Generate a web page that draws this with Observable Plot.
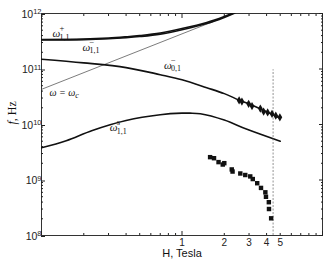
<!DOCTYPE html>
<html><head><meta charset="utf-8">
<script src="https://cdn.jsdelivr.net/npm/d3@7"></script>
<script src="https://cdn.jsdelivr.net/npm/@observablehq/plot@0.6"></script>
<style>body{margin:0;background:#fff}</style>
</head><body><div id="chart"></div>
<script>
// ---- data (H in Tesla, f in Hz) ----
const plusH  = [0.1, 0.2, 0.3, 0.4, 0.5, 0.7, 1.0, 1.5, 2.0, 2.3];
const plusF  = [3.4e11, 3.45e11, 3.6e11, 3.8e11, 4.0e11, 4.45e11, 5.35e11, 6.9e11, 8.85e11, 1.02e12];
const minusH = [0.1, 0.2, 0.3, 0.4, 0.5, 0.7, 1.0, 1.5, 2.0, 2.38];
const minusF = [3.35e11, 3.38e11, 3.5e11, 3.66e11, 3.84e11, 4.25e11, 5.1e11, 6.6e11, 8.5e11, 1.02e12];
const cycH   = [0.1, 2.33];
const cycF   = [4.3e10, 1.0e12];
const w01H   = [0.1, 0.2, 0.4, 0.7, 1.0, 1.5, 2.0, 2.55, 3.0, 4.0, 5.0];
const w01F   = [1.5e11, 1.29e11, 1.06e11, 7.9e10, 6.4e10, 4.6e10, 3.6e10, 2.75e10, 2.35e10, 1.7e10, 1.3e10];
const wsH    = [0.1, 0.15, 0.23, 0.4, 0.7, 1.0, 1.14, 1.35, 2.0, 2.9, 5.0];
const wsF    = [3.8e9, 5.1e9, 7.8e9, 1.18e10, 1.5e10, 1.6e10, 1.6e10, 1.56e10, 1.2e10, 8.2e9, 5.0e9];
const diamH  = [2.55, 2.67, 2.98, 3.15, 3.61, 3.81, 4.07, 4.37, 4.65, 4.97];
const diamF  = [2.71e10, 2.59e10, 2.36e10, 2.15e10, 1.94e10, 1.71e10, 1.65e10, 1.56e10, 1.44e10, 1.35e10];
const sqH    = [1.585, 1.69, 1.82, 1.95, 2.0, 2.26, 2.29, 2.6, 2.82, 3.06, 3.19, 3.43, 3.65, 3.92, 3.96, 4.15, 4.16, 4.31];
const sqF    = [2.58e9, 2.47e9, 2.1e9, 1.9e9, 2.01e9, 1.55e9, 1.42e9, 1.31e9, 1.23e9, 1.16e9, 1.04e9, 8.75e8, 7.2e8, 6.0e8, 4.98e8, 3.98e8, 3.0e8, 2.04e8];
const dashH  = [4.45];
const dashF  = [1e8, 9.7e10];

// ---- ticks ----
const yMajor = [1e8, 1e9, 1e10, 1e11, 1e12];
const mant = [2, 3, 4, 5, 6, 7, 8, 9];
const yMinor = [1e8, 1e9, 1e10, 1e11].flatMap(d => mant.map(m => m * d));
const xMajor = [0.1, 1, 10];
const xMinor = [0.1, 1].flatMap(d => mant.map(m => m * d));
const xLabels = [1, 2, 3, 4, 5];

// ---- annotations ----
const labH   = [0.12, 0.196, 0.744, 0.306];
const labF   = [4.37e11, 2.47e11, 1.16e11, 8.8e9];
const labSup = ["+", "\u2212", "\u2212", "s"];
const labSub = ["1,1", "1,1", "0,1", "1,1"];
const cLabH = [0.114], cLabF = [3.78e10];

const rows = (H, F) => H.map((h, i) => ({H: h, f: F[i]}));
const serif = "Liberation Serif";
const ink = "#111";

const lineOpts = {x: "H", y: "f", stroke: ink, strokeWidth: 1.6, curve: "catmull-rom", clip: true};

const chart = Plot.plot({
  width: 327, height: 265,
  marginLeft: 41, marginRight: 5, marginTop: 13, marginBottom: 30,
  style: {fontFamily: "Liberation Sans", fontSize: "10px", background: "#fff", color: "#222"},
  x: {type: "log", domain: [0.1, 10]},
  y: {type: "log", domain: [1e8, 1e12]},
  marks: [
    Plot.frame({stroke: "#333", strokeWidth: 1}),
    // y ticks
    Plot.axisY({anchor: "left", ticks: yMajor, tickSize: -4, tickPadding: 4, dy: 1, fontSize: 10.5,
      tickFormat: d => String(Math.round(Math.log10(d))), label: null}),
    Plot.axisY({anchor: "left", ticks: yMinor, tickSize: -2, tickFormat: () => "", label: null}),
    Plot.axisY({anchor: "right", ticks: yMajor, tickSize: -4, tickFormat: () => "", label: null}),
    Plot.axisY({anchor: "right", ticks: yMinor, tickSize: -2, tickFormat: () => "", label: null}),
    // x ticks
    Plot.axisX({anchor: "bottom", ticks: xMajor, tickSize: -4, tickFormat: () => "", label: null}),
    Plot.axisX({anchor: "bottom", ticks: xMinor, tickSize: -2, tickFormat: () => "", label: null}),
    Plot.axisX({anchor: "top", ticks: xMajor, tickSize: -4, tickFormat: () => "", label: null}),
    Plot.axisX({anchor: "top", ticks: xMinor, tickSize: -2, tickFormat: () => "", label: null}),
    Plot.axisX({anchor: "bottom", ticks: xLabels, tickSize: 0, tickPadding: 3, fontSize: 10, tickFormat: d => String(d), label: null}),
    // curves
    Plot.line(rows(cycH, cycF), {x: "H", y: "f", stroke: "#444", strokeWidth: 0.7, clip: true}),
    Plot.line(rows(plusH, plusF), lineOpts),
    Plot.line(rows(minusH, minusF), lineOpts),
    Plot.line(rows(w01H, w01F), lineOpts),
    Plot.line(rows(wsH, wsF), lineOpts),
    Plot.ruleX(dashH, {y1: dashF[0], y2: dashF[1], stroke: "#666", strokeWidth: 0.7, strokeDasharray: "2,1.5"}),
    Plot.dot(rows(diamH, diamF), {x: "H", y: "f", symbol: "diamond", r: 2.5, fill: ink, stroke: null}),
    Plot.dot(rows(sqH, sqF), {x: "H", y: "f", symbol: "square", r: 2.5, fill: ink, stroke: null}),
    // curve labels
    Plot.text(rows(labH, labF), {x: "H", y: "f", text: () => "\u03c9", textAnchor: "start", fontFamily: serif, fontStyle: "italic", fontSize: 11, fill: ink}),
    Plot.text(rows(labH, labF), {x: "H", y: "f", text: (d, i) => labSup[i], textAnchor: "start", dx: 7, dy: -5, fontFamily: serif, fontSize: 8.5, fill: ink}),
    Plot.text(rows(labH, labF), {x: "H", y: "f", text: (d, i) => labSub[i], textAnchor: "start", dx: 7, dy: 3.5, fontFamily: serif, fontSize: 8, fill: ink}),
    Plot.text(rows(cLabH, cLabF), {x: "H", y: "f", text: () => "\u03c9 = \u03c9", textAnchor: "start", fontFamily: serif, fontStyle: "italic", fontSize: 10, fill: ink}),
    // axis titles
    Plot.text(["H, Tesla"], {frameAnchor: "bottom", dy: 21.5, text: d => d, fontSize: 11, fill: ink}),
    Plot.text(["f, Hz"], {frameAnchor: "left", dx: -29, rotate: -90, text: d => d, fontFamily: serif, fontSize: 12, fill: ink})
  ]
});

document.getElementById("chart").appendChild(chart);

const ns = "http://www.w3.org/2000/svg";
// superscript exponents on y tick labels
chart.querySelectorAll('g[aria-label="y-axis tick label"] text').forEach(t => {
  const e = t.textContent;
  if (!e) return;
  t.textContent = "";
  const b = document.createElementNS(ns, "tspan"); b.textContent = "10";
  const s = document.createElementNS(ns, "tspan"); s.textContent = e;
  s.setAttribute("dy", "-0.5em"); s.setAttribute("font-size", "7.5px");
  t.append(b, s);
});
chart.querySelectorAll("text").forEach(t => {
  // italic f in y title
  if (t.textContent === "f, Hz") {
    t.textContent = "";
    const a = document.createElementNS(ns, "tspan"); a.textContent = "f"; a.setAttribute("font-style", "italic");
    const b = document.createElementNS(ns, "tspan"); b.textContent = ", Hz";
    t.append(a, b);
  }
  // subscript c in cyclotron label
  if (t.textContent === "\u03c9 = \u03c9") {
    const c = document.createElementNS(ns, "tspan"); c.textContent = "c";
    c.setAttribute("dy", "2.5"); c.setAttribute("font-size", "8px");
    t.append(c);
  }
});
</script>
</body></html>
